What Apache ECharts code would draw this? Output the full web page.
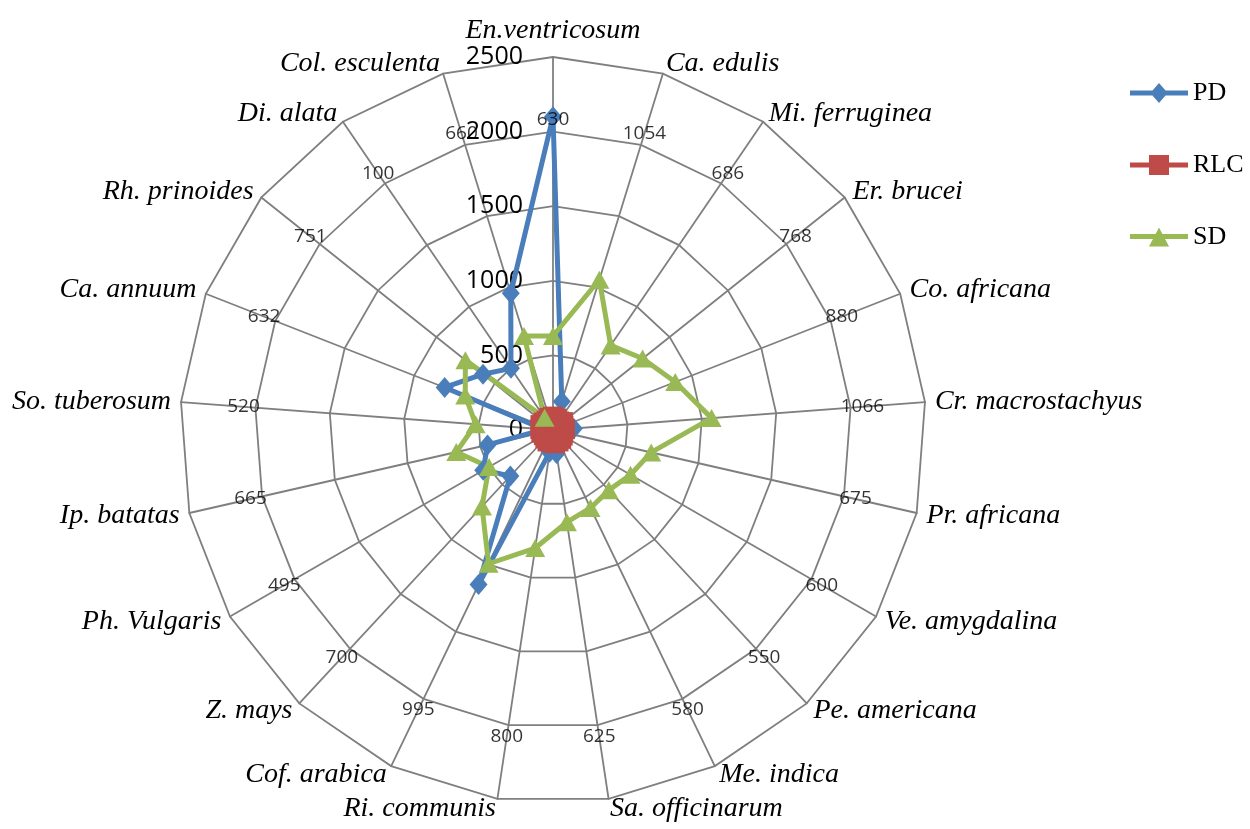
<!DOCTYPE html>
<html>
<head>
<meta charset="utf-8">
<script src="https://cdn.jsdelivr.net/npm/echarts@6/dist/echarts.min.js"></script>
<style>
html,body{margin:0;padding:0;background:#fff;}
#chart{width:1250px;height:829px;}
</style>
</head>
<body>
<div id="chart"></div>
<script>
// ---- data (clockwise from top) ----
const categories = ['En.ventricosum','Ca. edulis','Mi. ferruginea','Er. brucei','Co. africana','Cr. macrostachyus','Pr. africana','Ve. amygdalina','Pe. americana','Me. indica','Sa. officinarum','Ri. communis','Cof. arabica','Z. mays','Ph. Vulgaris','Ip. batatas','So. tuberosum','Ca. annuum','Rh. prinoides','Di. alata','Col. esculenta'];
const PD  = [2100, 200, 60, 60, 80, 140, 70, 60, 60, 80, 160, 150, 1150, 420, 540, 450, 60, 780, 600, 500, 960];
const RLC = [90, 80, 70, 85, 75, 80, 70, 75, 80, 85, 90, 80, 85, 75, 70, 80, 85, 90, 80, 75, 85];
const SD  = [630, 1054, 686, 768, 880, 1066, 675, 600, 550, 580, 625, 800, 995, 700, 495, 665, 520, 632, 751, 100, 660];
const seriesNames = ['PD', 'RLC', 'SD'];
const axisMax = 2500;
const LABEL_R = 2080; // radius at which the SD value labels sit

// ---- layout ----
const CENTER = [553, 430];
const RADIUS = 373;
const colors = ['#4A7EBB', '#BE4B48', '#98B954'];

// ECharts radar places indicators counter-clockwise; reorder so they run clockwise
const order = categories.map((_, i) => i === 0 ? 0 : categories.length - i);
const reorder = arr => order.map(i => arr[i]);

const indicators = order.map((i, k) => {
  const ind = { name: categories[i], min: 0, max: axisMax };
  if (k === 0) {
    ind.axisLabel = { show: true, showMinLabel: true, showMaxLabel: true };
  }
  return ind;
});

const icons = [
  'path://M0,7.5 L22.5,7.5 L29,0 L35.5,7.5 L58,7.5 L58,12.5 L35.5,12.5 L29,20 L22.5,12.5 L0,12.5 Z',
  'path://M0,7.5 L19,7.5 L19,0 L39,0 L39,7.5 L58,7.5 L58,12.5 L39,12.5 L39,20 L19,20 L19,12.5 L0,12.5 Z',
  'path://M0,7.5 L25.6,7.5 L29,1 L32.4,7.5 L58,7.5 L58,12.5 L35.05,12.5 L39,20 L19,20 L22.95,12.5 L0,12.5 Z'
];
const symbols = ['diamond', 'rect', 'triangle'];
const symbolSizes = [[18, 21], [20, 20], [20, 18]];
const values = [PD, RLC, SD];

const chart = echarts.init(document.getElementById('chart'), null, { renderer: 'canvas' });
chart.setOption({
  backgroundColor: '#ffffff',
  animation: false,
  legend: {
    orient: 'vertical',
    left: 1130,
    top: 80,
    padding: 0,
    itemWidth: 58,
    itemHeight: 20,
    itemGap: 46,
    textStyle: { fontFamily: 'Liberation Serif', fontSize: 26, color: '#000' },
    itemStyle: { borderWidth: 0 },
    data: seriesNames.map((n, k) => ({ name: n, icon: icons[k], itemStyle: { color: colors[k] } }))
  },
  radar: {
    center: CENTER,
    radius: RADIUS,
    startAngle: 90,
    splitNumber: 5,
    shape: 'polygon',
    nameGap: 10,
    axisName: {
      color: '#000',
      fontFamily: 'Liberation Serif',
      fontStyle: 'italic',
      fontSize: 28
    },
    axisLine: { lineStyle: { color: '#7f7f7f', width: 1.8 } },
    splitLine: { lineStyle: { color: '#7f7f7f', width: 1.8 } },
    splitArea: { show: false },
    axisTick: { show: false },
    axisLabel: {
      show: false,
      color: '#000',
      fontFamily: 'Open Sans',
      fontSize: 25,
      margin: 30,
      formatter: v => String(v)
    },
    indicator: indicators
  },
  polar: { center: CENTER, radius: RADIUS },
  angleAxis: { type: 'value', min: 0, max: categories.length, startAngle: 90, clockwise: true, show: false },
  radiusAxis: { type: 'value', min: 0, max: axisMax, show: false },
  series: [
    {
      type: 'radar',
      z: 3,
      data: seriesNames.map((n, k) => ({
        name: n,
        value: reorder(values[k]),
        symbol: symbols[k],
        symbolSize: symbolSizes[k],
        lineStyle: { color: colors[k], width: 5 },
        itemStyle: { color: colors[k] }
      }))
    },
    {
      type: 'scatter',
      coordinateSystem: 'polar',
      silent: true,
      z: 4,
      symbolSize: 1,
      itemStyle: { color: 'rgba(0,0,0,0)' },
      data: SD.map((v, i) => [LABEL_R, i]),
      label: {
        show: true,
        position: 'inside',
        formatter: p => String(SD[p.dataIndex]),
        fontFamily: 'Open Sans',
        fontSize: 19,
        color: '#000'
      }
    }
  ]
});
</script>
</body>
</html>
